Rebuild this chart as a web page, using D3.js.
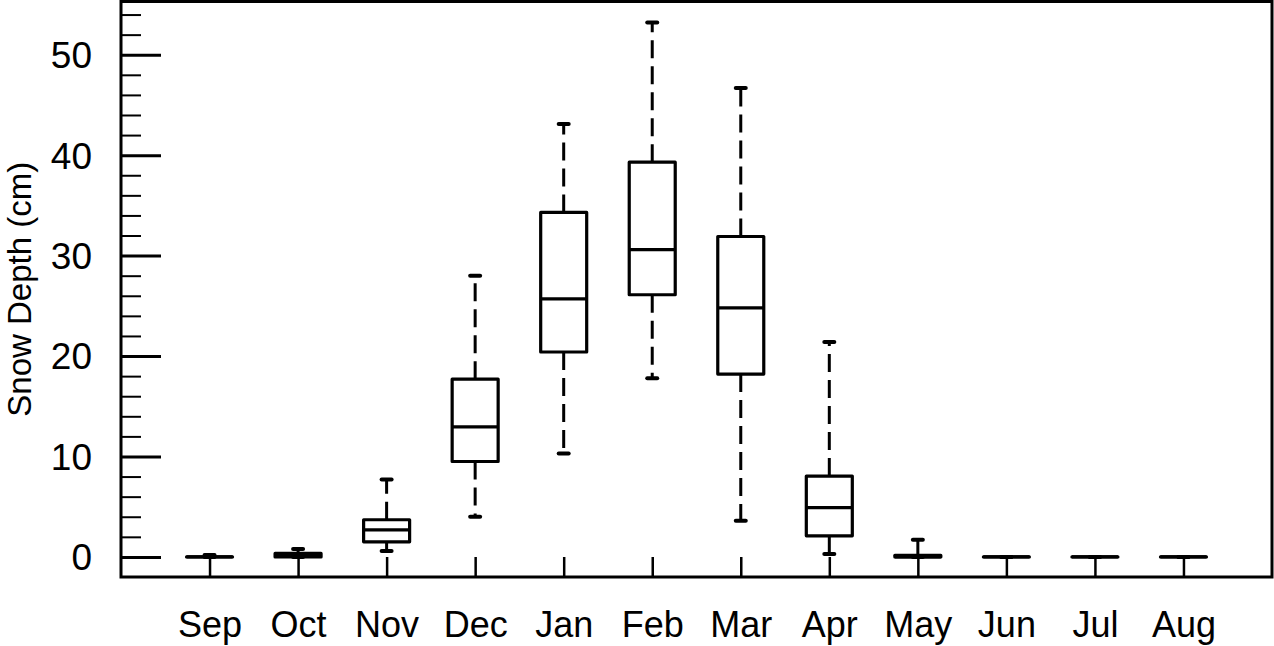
<!DOCTYPE html>
<html>
<head>
<meta charset="utf-8">
<script src="https://cdn.jsdelivr.net/npm/d3@7"></script>
<style>
    body { margin: 0; background: #fff; }
    svg text { font-family: "Liberation Sans", Arial, Helvetica, sans-serif; fill: #000; }
</style>
</head>
<body>
<svg id="chart" width="1274" height="646"></svg>
<script>
    // monthly snow depth distribution (cm)
    var months  = ["Sep", "Oct", "Nov", "Dec", "Jan", "Feb", "Mar", "Apr", "May", "Jun", "Jul", "Aug"];
    var minVals = [0, 0,    0.6, 4.0,  10.3, 17.8, 3.6,  0.3,  0,    0, 0, 0];
    var q1Vals  = [0, 0,    1.5, 9.5,  20.4, 26.1, 18.2, 2.1,  0,    0, 0, 0];
    var medVals = [0, 0.2,  2.7, 12.95, 25.7, 30.6, 24.8, 4.9,  0,    0, 0, 0];
    var q3Vals  = [0, 0.35, 3.7, 17.7, 34.3, 39.3, 31.9, 8.05, 0.15, 0, 0, 0];
    var maxVals = [0.2, 0.8, 7.7, 28.0, 43.1, 53.2, 46.7, 21.4, 1.7, 0, 0, 0];
    var majorTicks = [0, 10, 20, 30, 40, 50];
    var minorTicks = [2, 4, 6, 8, 12, 14, 16, 18, 22, 24, 26, 28, 32, 34, 36, 38, 42, 44, 46, 48, 52, 54];

    var svg = d3.select("#chart"),
        plotLeft = 121, plotRight = 1272, plotTop = 1.5, plotBottom = 577;

    var x = d3.scaleLinear().domain([0, 13]).range([plotLeft, plotRight]);
    var y = d3.scaleLinear().domain([-2, 55.3]).range([plotBottom, plotTop]);

    var data = months.map(function(m, i) {
        return { m: m, pos: i + 1, min: minVals[i], q1: q1Vals[i], med: medVals[i], q3: q3Vals[i], max: maxVals[i] };
    });

    var halfBox = 23;

    // y axis: major ticks with labels, minor ticks without
    var yAxis = svg.append("g")
        .attr("transform", "translate(" + plotLeft + ",0)")
        .call(d3.axisLeft(y).tickValues(majorTicks).tickSize(-40).tickPadding(29).tickFormat(d3.format("d")));
    yAxis.select(".domain").remove();
    yAxis.selectAll("line").attr("stroke", "#000").attr("stroke-width", 3);
    yAxis.selectAll("text").attr("font-size", 37).attr("dy", "0.35em");

    var yMinor = svg.append("g")
        .attr("transform", "translate(" + plotLeft + ",0)")
        .call(d3.axisLeft(y).tickValues(minorTicks).tickSize(-20).tickFormat(""));
    yMinor.select(".domain").remove();
    yMinor.selectAll("line").attr("stroke", "#000").attr("stroke-width", 2);

    // x axis
    var xAxis = svg.append("g")
        .attr("transform", "translate(0," + plotBottom + ")")
        .call(d3.axisBottom(x).tickValues(d3.range(1, 13)).tickSize(-20).tickPadding(34)
            .tickFormat(function(d) { return months[d - 1]; }));
    xAxis.select(".domain").remove();
    xAxis.selectAll("line").attr("stroke", "#000").attr("stroke-width", 2.5);
    xAxis.selectAll("text").attr("font-size", 36);

    // y title
    svg.append("text")
        .attr("transform", "translate(30.5," + ((plotTop + plotBottom) / 2) + ") rotate(-90)")
        .attr("text-anchor", "middle")
        .attr("font-size", 33)
        .text("Snow Depth (cm)");

    // boxes
    var box = svg.append("g").selectAll("g")
        .data(data)
        .enter().append("g");

    // whiskers, drawn from the box outward
    box.filter(function(d) { return d.max > d.q3; })
        .append("line")
        .attr("x1", function(d) { return x(d.pos); })
        .attr("x2", function(d) { return x(d.pos); })
        .attr("y1", function(d) { return y(d.q3); })
        .attr("y2", function(d) { return y(d.max); })
        .attr("stroke", "#000").attr("stroke-width", 3)
        .attr("stroke-dasharray", "18,8");

    box.filter(function(d) { return d.min < d.q1; })
        .append("line")
        .attr("x1", function(d) { return x(d.pos); })
        .attr("x2", function(d) { return x(d.pos); })
        .attr("y1", function(d) { return y(d.q1); })
        .attr("y2", function(d) { return y(d.min); })
        .attr("stroke", "#000").attr("stroke-width", 3)
        .attr("stroke-dasharray", "18,8");

    // staples
    ["min", "max"].forEach(function(k) {
        box.append("line")
            .attr("x1", function(d) { return x(d.pos) - 5; })
            .attr("x2", function(d) { return x(d.pos) + 5; })
            .attr("y1", function(d) { return y(d[k]); })
            .attr("y2", function(d) { return y(d[k]); })
            .attr("stroke", "#000").attr("stroke-width", 4)
            .attr("stroke-linecap", "round");
    });

    box.append("path")
        .attr("d", function(d) {
            var x0 = x(d.pos) - halfBox, x1 = x(d.pos) + halfBox;
            return "M" + x0 + "," + y(d.q1) + "H" + x1 + "V" + y(d.q3) + "H" + x0 + "Z";
        })
        .attr("fill", "#fff")
        .attr("stroke", "#000").attr("stroke-width", 3.2)
        .attr("stroke-linejoin", "round");

    box.append("line")
        .attr("x1", function(d) { return x(d.pos) - halfBox; })
        .attr("x2", function(d) { return x(d.pos) + halfBox; })
        .attr("y1", function(d) { return y(d.med); })
        .attr("y2", function(d) { return y(d.med); })
        .attr("stroke", "#000").attr("stroke-width", 3.2);

    // frame
    svg.append("rect")
        .attr("x", plotLeft).attr("y", plotTop)
        .attr("width", plotRight - plotLeft).attr("height", plotBottom - plotTop)
        .attr("fill", "none").attr("stroke", "#000").attr("stroke-width", 3);
</script>
</body>
</html>
